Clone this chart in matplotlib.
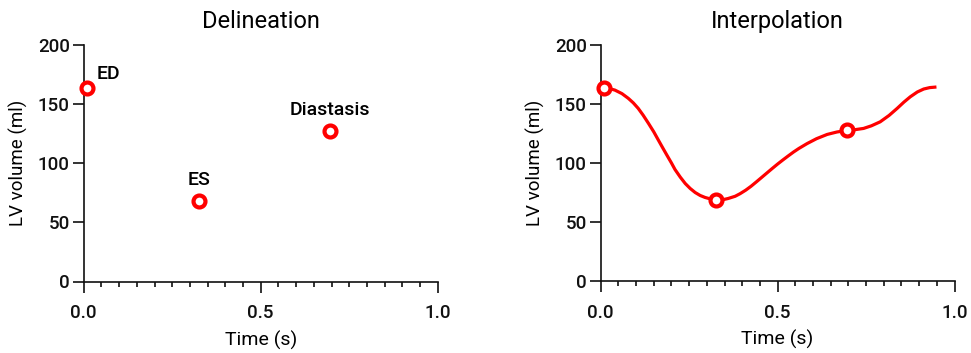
import matplotlib
matplotlib.use("Agg")
import matplotlib.pyplot as plt
from matplotlib.ticker import MultipleLocator

plt.rcParams['font.family'] = ['Roboto', 'DejaVu Sans']
plt.rcParams['font.weight'] = 'medium'

# Key points (Time s, LV volume ml)
key_labels = ["ED", "ES", "Diastasis"]
key_t = [0.008, 0.327, 0.696]
key_v = [163.3, 68.4, 127.6]

# Interpolated curve
curve_t = [0.008, 0.025, 0.04, 0.06, 0.078, 0.092, 0.106, 0.12, 0.135, 0.15, 0.163,
           0.175, 0.187, 0.2, 0.21, 0.225, 0.239, 0.253, 0.267, 0.281, 0.295, 0.312,
           0.327, 0.345, 0.36, 0.38, 0.394, 0.41, 0.425, 0.44, 0.455, 0.47, 0.485,
           0.5, 0.515, 0.53, 0.545, 0.56, 0.583, 0.61, 0.64, 0.668, 0.696, 0.72,
           0.743, 0.765, 0.79, 0.815, 0.838, 0.857, 0.875, 0.895, 0.913, 0.93, 0.949]
curve_v = [163.3, 163.0, 161.8, 158.8, 154.8, 151.0, 146.3, 140.5, 133.6, 126.4, 119.4,
           113.0, 106.7, 100.0, 94.5, 88.0, 82.6, 78.4, 75.0, 72.5, 70.8, 69.4,
           68.4, 68.9, 69.9, 71.8, 74.0, 77.0, 80.3, 84.0, 87.8, 91.6, 95.4,
           99.1, 102.6, 106.0, 109.3, 112.3, 116.4, 120.6, 124.2, 126.3, 127.6, 128.3,
           129.3, 131.5, 134.9, 140.3, 146.3, 151.6, 156.1, 160.2, 162.7, 163.9, 164.4]

x_ticks = [0.0, 0.5, 1.0]
y_ticks = [0, 50, 100, 150, 200]

red = "#ff0000"
W, H = 971, 353
fig = plt.figure(figsize=(W / 100, H / 100), dpi=100)

def px_axes(left, right, top, bottom):
    return fig.add_axes([left / W, 1 - bottom / H, (right - left) / W, (bottom - top) / H])

axL = px_axes(83.7, 437.7, 45, 281.5)
axR = px_axes(600.7, 954.5, 45, 281.0)

for ax, title in [(axL, "Delineation"), (axR, "Interpolation")]:
    ax.set_xlim(0, 1)
    ax.set_ylim(0, 200)
    for s in ["top", "right"]:
        ax.spines[s].set_visible(False)
    for s in ["left", "bottom"]:
        ax.spines[s].set_linewidth(1.2)
        ax.spines[s].set_color("#111111")
    ax.set_xticks(x_ticks)
    ax.set_xticklabels([f"{v:.1f}" for v in x_ticks])
    ax.set_yticks(y_ticks)
    ax.xaxis.set_minor_locator(MultipleLocator(0.05))
    ax.tick_params(axis="both", which="major", direction="out", width=1.2,
                   labelsize=13.5, color="#111111", labelcolor="#111111")
    ax.tick_params(axis="x", which="major", length=7.7, pad=8.5)
    ax.tick_params(axis="y", which="major", length=8, pad=2)
    ax.tick_params(axis="x", which="minor", length=3.3, width=1.2, color="#111111")
    ax.set_xlabel("Time (s)", fontsize=14, labelpad=6)
    ax.set_ylabel("LV volume (ml)", fontsize=13.5, labelpad=7)
    ax.set_title(title, fontsize=17, pad=12)

# Left: points + labels
axL.plot(key_t, key_v, linestyle="none", marker="o", markersize=8.6, markeredgewidth=3.0,
         markeredgecolor=red, markerfacecolor="white", clip_on=False, zorder=5)
axL.annotate(key_labels[0], (key_t[0], key_v[0]), xytext=(7, 7), textcoords="offset points",
             ha="left", va="baseline", fontsize=14)
for i in (1, 2):
    axL.annotate(key_labels[i], (key_t[i], key_v[i]), xytext=(0, 11.5), textcoords="offset points",
                 ha="center", va="baseline", fontsize=14)

# Right: curve + points
axR.plot(curve_t, curve_v, color=red, linewidth=2.3, clip_on=False, zorder=3,
         solid_capstyle="butt")
axR.plot(key_t, key_v, linestyle="none", marker="o", markersize=8.6, markeredgewidth=3.0,
         markeredgecolor=red, markerfacecolor="white", clip_on=False, zorder=5)

fig.savefig("out.png", dpi=100)
